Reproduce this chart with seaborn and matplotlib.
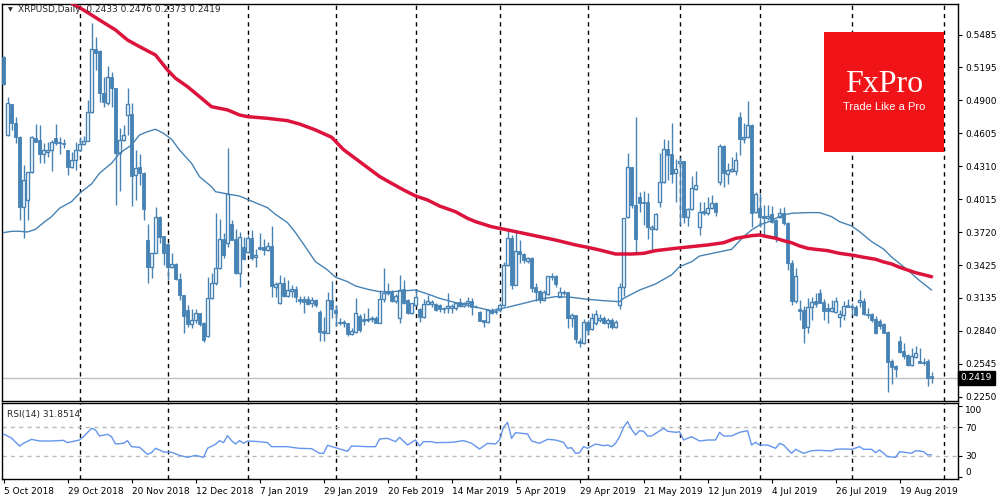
import matplotlib
matplotlib.use('Agg')
import matplotlib.pyplot as plt
import matplotlib.transforms as mtransforms
from matplotlib.patches import Rectangle
import numpy as np
import seaborn as sns

# daily candles, one entry per trading bar (5 Oct 2018 .. 29 Aug 2019)
opens = [
    .5291, .4591, .4865, .4695, .4576, .3944, .4010, .4257, .4564, .4546,
    .4418, .4436, .4457, .4561, .4531, .4523, .4457, .4302, .4368, .4457,
    .4511, .4540, .4794, .5357, .5345, .4964, .4880, .5113, .5008, .4427,
    .4546, .4770, .4776, .4233, .4308, .4254, .3652, .3414, .3539, .3855,
    .3688, .3617, .3414, .3435, .3301, .3158, .3027, .2901, .2937, .2997,
    .2907, .2794, .3131, .3265, .3399, .3658, .3629, .3795, .3658, .3360,
    .3593, .3548, .3667, .3497, .3593, .3593, .3563, .3602, .3235, .3092,
    .3265, .3155, .3199, .3211, .3122, .3122, .3122, .3086, .3116, .3012,
    .2839, .2824, .3116, .3027, .2916, .2907, .2907, .2809, .2833, .2976,
    .2946, .2937, .2943, .2952, .2913, .3122, .3176, .3190, .3110, .2952,
    .3211, .3116, .3003, .3071, .3033, .2961, .3080, .3080, .3080, .3071,
    .3048, .3042, .3042, .3042, .3101, .3062, .3086, .3110, .3056, .3006,
    .2937, .2922, .3027, .3020, .3027, .3071, .3429, .3673, .3250, .3554,
    .3527, .3468, .3489, .3235, .3196, .3116, .3170, .3331, .3331, .3146,
    .3190, .3184, .2958, .2982, .2752, .2735, .2922, .2854, .2907, .2937,
    .2955, .2913, .2937, .2872, .3071, .3229, .3855, .4302, .3965, .4040,
    .3995, .3995, .3748, .3748, .3995, .4174, .4463, .4418, .4248, .4344,
    .4359, .3861, .3927, .4105, .3772, .3912, .3891, .3936, .3980, .4174,
    .4493, .4242, .4272, .4272, .4749, .4552, .4570, .4681, .3906, .3936,
    .3867, .3846, .3885, .3831, .3861, .3897, .3801, .3444, .3110, .3033,
    .3027, .2872, .3051, .3110, .3176, .3101, .3042, .3021, .3012, .2967,
    .2982, .3071, .3062, .3051, .3101, .3110, .2991, .2991, .2943, .2931,
    .2901, .2830, .2574, .2526, .2752, .2663, .2624, .2532, .2603, .2574,
    .2565, .2574, .2433,
]
highs = [
    .5300, .4928, .4870, .4755, .4582, .4323, .4260, .4582, .4686, .4680,
    .4517, .4531, .4546, .4689, .4570, .4552, .4460, .4442, .4531, .4576,
    .4582, .4904, .5595, .5464, .5350, .5107, .5208, .5157, .5010, .4651,
    .4680, .5014, .4880, .4457, .4418, .4263, .3795, .3539, .3944, .3867,
    .3690, .3623, .3533, .3444, .3354, .3160, .3071, .3038, .3032, .3003,
    .2922, .3325, .3360, .3897, .3837, .3712, .4478, .3831, .3748, .3727,
    .3682, .3697, .3742, .3569, .3712, .3658, .3638, .3778, .3280, .3340,
    .3319, .3295, .3250, .3241, .3152, .3152, .3152, .3146, .3122, .3027,
    .2967, .3190, .3289, .3071, .2952, .2937, .2913, .2863, .3131, .2991,
    .2997, .3042, .2973, .2973, .3205, .3405, .3265, .3205, .3170, .3340,
    .3295, .3122, .3089, .3211, .3042, .3122, .3161, .3116, .3086, .3080,
    .3056, .3182, .3080, .3101, .3131, .3101, .3146, .3131, .3071, .3015,
    .2940, .3033, .3045, .3045, .3086, .3459, .3742, .3697, .3742, .3652,
    .3533, .3503, .3498, .3271, .3205, .3205, .3331, .3355, .3340, .3229,
    .3205, .3190, .2997, .2985, .2773, .2943, .2937, .2997, .3027, .2991,
    .2973, .2952, .2958, .2937, .3271, .3852, .4433, .4305, .4755, .4085,
    .4094, .4070, .3786, .3897, .4427, .4552, .4546, .4701, .4374, .4397,
    .4362, .3936, .4225, .4272, .3995, .3995, .4034, .4055, .3995, .4511,
    .4502, .4344, .4397, .4442, .4800, .4701, .4898, .4690, .4085, .4076,
    .3965, .3965, .3956, .3837, .3936, .3950, .3816, .3474, .3399, .3116,
    .3062, .3131, .3146, .3176, .3211, .3122, .3086, .3116, .3140, .3027,
    .3110, .3122, .3086, .3071, .3205, .3131, .3042, .3003, .2973, .2943,
    .2907, .2842, .2586, .2535, .2794, .2729, .2633, .2684, .2705, .2684,
    .2594, .2586, .2476,
]
lows = [
    .5040, .4585, .4636, .4517, .3831, .3667, .3831, .4248, .4528, .4344,
    .4344, .4397, .4272, .4502, .4421, .4472, .4233, .4293, .4278, .4451,
    .4502, .4535, .4790, .5172, .4889, .4838, .4859, .4844, .3965, .4093,
    .4540, .4591, .3959, .4010, .4144, .3831, .3265, .3310, .3533, .3623,
    .3429, .3295, .3399, .3295, .3116, .2818, .2878, .2863, .2907, .2884,
    .2744, .2788, .3128, .3250, .3396, .3488, .3593, .3650, .3348, .3235,
    .3474, .3533, .3474, .3414, .3563, .3518, .3557, .3146, .3146, .3080,
    .3146, .3146, .3146, .3101, .3080, .3003, .3071, .3050, .3050, .2752,
    .2752, .2821, .2952, .2884, .2893, .2878, .2794, .2803, .2818, .2833,
    .2893, .2922, .2922, .2907, .2907, .3101, .3161, .3101, .3086, .2907,
    .3080, .2991, .2991, .3062, .2922, .2952, .3071, .3050, .3021, .3012,
    .2997, .3003, .3003, .3027, .3056, .3050, .3056, .2982, .3042, .2928,
    .2872, .2913, .2995, .2995, .3012, .3062, .3420, .3211, .3247, .3450,
    .3450, .3444, .3190, .3110, .3086, .3110, .3161, .3295, .3235, .3140,
    .3161, .2863, .2872, .2729, .2693, .2723, .2803, .2848, .2893, .2922,
    .2901, .2863, .2854, .2863, .3033, .3152, .3846, .3936, .3533, .3906,
    .3786, .3658, .3563, .3742, .3950, .4165, .4189, .4159, .3995, .3786,
    .3801, .3778, .3921, .4099, .3697, .3876, .3876, .3927, .3867, .4144,
    .4129, .4153, .4263, .4233, .4412, .4517, .4561, .3772, .3891, .3772,
    .3688, .3831, .3801, .3637, .3846, .3786, .3384, .3071, .3086, .2937,
    .2729, .2818, .2937, .3056, .3086, .2937, .2913, .3012, .3003, .2878,
    .2937, .3051, .2982, .2973, .3056, .2982, .2952, .2922, .2812, .2854,
    .2818, .2296, .2365, .2431, .2639, .2586, .2526, .2526, .2594, .2550,
    .2535, .2347, .2373,
]
closes = [
    .5047, .4874, .4695, .4576, .3944, .4189, .4257, .4576, .4531, .4418,
    .4457, .4457, .4531, .4517, .4517, .4511, .4302, .4368, .4457, .4511,
    .4540, .4794, .5357, .5327, .4964, .4889, .5107, .5008, .4433, .4546,
    .4591, .4865, .4228, .4293, .4248, .3927, .3408, .3533, .3855, .3682,
    .3533, .3414, .3435, .3301, .3158, .2973, .2901, .2937, .2997, .2901,
    .2758, .3131, .3265, .3399, .3658, .3518, .4061, .3652, .3360, .3676,
    .3480, .3667, .3495, .3518, .3575, .3563, .3602, .3244, .3259, .3265,
    .3155, .3205, .3214, .3146, .3110, .3101, .3080, .3116, .3071, .2833,
    .2824, .3116, .3033, .2997, .2907, .2916, .2809, .2839, .2997, .2848,
    .2931, .2946, .2952, .2913, .3122, .3182, .3190, .3110, .3155, .3205,
    .3092, .3003, .3086, .3146, .2961, .3080, .3110, .3101, .3027, .3033,
    .3033, .3062, .3065, .3092, .3062, .3092, .3110, .3056, .3050, .2931,
    .2922, .3027, .3003, .3005, .3071, .3429, .3673, .3250, .3554, .3524,
    .3474, .3489, .3226, .3190, .3116, .3190, .3331, .3319, .3259, .3190,
    .3176, .2958, .2982, .2764, .2735, .2922, .2848, .2952, .2991, .2955,
    .2913, .2937, .2872, .2922, .3229, .3846, .4302, .3965, .3658, .3986,
    .3980, .3766, .3772, .3882, .4174, .4463, .4412, .4242, .4284, .4359,
    .3861, .3927, .4114, .4144, .3906, .3891, .3936, .3980, .3906, .4493,
    .4248, .4278, .4287, .4368, .4552, .4570, .4681, .3897, .4064, .3855,
    .3846, .3867, .3816, .3667, .3891, .3801, .3444, .3110, .3331, .3021,
    .2863, .3051, .3101, .3080, .3092, .3021, .3021, .3042, .3110, .2991,
    .3062, .3056, .3051, .2982, .3116, .2991, .2982, .2937, .2818, .2884,
    .2824, .2565, .2520, .2496, .2654, .2615, .2532, .2618, .2639, .2556,
    .2556, .2416, .2419,
]

# slow (red) and fast (blue) moving averages
ma_red_bars = [17, 20, 24, 28, 31, 34, 38, 41, 43, 46, 49, 52, 56, 59, 61,
               66, 71, 74, 78, 82, 85, 88, 91, 94, 97, 100, 103, 106, 109,
               113, 116, 118, 122, 126, 130, 134, 138, 143, 146, 149, 153,
               157, 160, 163, 168, 172, 176, 180, 183, 187, 189, 191, 193,
               195, 197, 199, 201, 203, 206, 209, 212, 215, 218, 220, 222,
               224, 226, 228, 232]
ma_red_vals = [.5768, .5709, .5619, .5530, .5440, .5381, .5306, .5172, .5098,
               .5023, .4934, .4844, .4815, .4770, .4755, .4740, .4719, .4689,
               .4636, .4571, .4460, .4380, .4300, .4220, .4159, .4100,
               .4046, .4010, .3956, .3905, .3846, .3816, .3771, .3742, .3712,
               .3682, .3652, .3608, .3587, .3563, .3527, .3527, .3533, .3557,
               .3578, .3593, .3608, .3628, .3667, .3691, .3697, .3682, .3668,
               .3646, .3628, .3599, .3578, .3569, .3557, .3533, .3518, .3498,
               .3480, .3456, .3438, .3408, .3384, .3360, .3324]
ma_blue_bars = [0, 2, 4, 6, 8, 10, 12, 14, 17, 19, 22, 24, 27, 29, 32, 34, 36,
                38, 40, 42, 44, 47, 49, 52, 53, 56, 59, 62, 66, 68, 71, 73,
                76, 78, 81, 83, 86, 88, 91, 94, 97, 103, 106, 109, 113, 117,
                122, 126, 130, 134, 138, 142, 146, 150, 154, 155, 159, 163,
                164, 167, 169, 172, 174, 178, 182, 185, 187, 189, 192, 193,
                195, 197, 201, 204, 207, 209, 212, 214, 217, 220, 222, 226,
                229, 232]
ma_blue_vals = [.3718, .3730, .3730, .3724, .3748, .3807, .3861, .3936, .3995,
                .4070, .4153, .4249, .4338, .4427, .4502, .4591, .4621, .4642,
                .4606, .4553, .4457, .4338, .4218, .4129, .4084, .4064, .4045,
                .4000, .3941, .3881, .3807, .3718, .3563, .3458, .3384, .3319,
                .3280, .3241, .3212, .3190, .3190, .3205, .3170, .3131, .3092,
                .3062, .3020, .3051, .3086, .3122, .3146, .3140, .3122, .3110,
                .3101, .3131, .3205, .3259, .3280, .3340, .3414, .3458, .3509,
                .3539, .3569, .3682, .3742, .3787, .3825, .3846, .3876, .3891,
                .3897, .3897, .3861, .3816, .3778, .3727, .3638, .3571, .3500,
                .3384, .3289, .3205]

# RSI(14)
rsi_bars = [0, 2, 4, 5, 7, 9, 12, 15, 16, 19, 20, 22, 23, 24, 26, 27, 28, 30,
            31, 32, 34, 36, 37, 38, 39, 40, 42, 44, 46, 48, 50, 51, 53, 54, 55,
            56, 57, 58, 59, 60, 61, 64, 66, 67, 71, 72, 74, 77, 79, 80, 81, 83,
            84, 86, 87, 91, 93, 94, 96, 98, 99, 101, 103, 104, 105, 107, 108,
            112, 115, 117, 119, 121, 123, 124, 125, 126, 127, 128, 131, 132,
            134, 136, 138, 140, 141, 142, 143, 144, 145, 146, 148, 150, 151,
            152, 153, 154, 155, 156, 157, 158, 159, 160, 161, 162, 165, 166,
            168, 169, 170, 172, 174, 176, 178, 179, 180, 182, 184, 186, 187,
            188, 189, 191, 193, 194, 195, 197, 198, 200, 202, 204, 207, 208,
            210, 212, 214, 215, 217, 218, 219, 221, 223, 224, 226, 227, 228,
            229, 230, 231, 232]
rsi_vals = [60.7, 55.0, 43.9, 47.7, 53.2, 50.9, 50.9, 51.8, 48.6, 52.3, 56.9,
            68.6, 66.2, 57.9, 60.2, 56.9, 46.7, 47.7, 51.4, 43.0, 42.1, 32.3,
            34.6, 40.7, 38.4, 35.6, 35.1, 30.9, 28.1, 30.9, 28.1, 40.7, 46.3,
            51.4, 48.6, 58.3, 51.4, 46.7, 51.4, 47.7, 50.9, 50.0, 48.6, 43.0,
            43.0, 42.1, 40.7, 40.2, 33.7, 33.7, 44.9, 41.6, 39.8, 36.5, 43.9,
            43.0, 43.0, 53.7, 54.6, 50.0, 56.0, 45.3, 52.3, 43.9, 50.0, 50.0,
            48.6, 49.0, 51.4, 47.7, 39.8, 47.7, 46.7, 52.5, 70.0, 76.9, 54.6,
            62.5, 60.7, 50.9, 47.7, 53.2, 52.3, 49.0, 40.7, 41.6, 33.7, 34.6,
            43.0, 40.7, 46.7, 44.4, 45.3, 43.0, 47.7, 57.0, 70.0, 77.9, 67.2,
            59.3, 65.3, 64.4, 57.9, 57.9, 68.6, 64.5, 63.0, 63.9, 52.3, 56.9,
            50.9, 52.3, 52.3, 63.0, 57.9, 57.9, 63.0, 65.3, 45.3, 49.0, 45.3,
            45.3, 40.7, 47.7, 45.3, 33.7, 39.3, 33.7, 37.4, 37.9, 37.0, 39.3,
            39.8, 39.3, 43.0, 39.3, 39.3, 34.6, 38.4, 29.1, 28.1, 36.0, 34.6,
            33.7, 37.4, 37.0, 36.0, 31.4, 31.85]

date_labels = ['5 Oct 2018', '29 Oct 2018', '20 Nov 2018', '12 Dec 2018',
               '7 Jan 2019', '29 Jan 2019', '20 Feb 2019', '14 Mar 2019',
               '5 Apr 2019', '29 Apr 2019', '21 May 2019', '12 Jun 2019',
               '4 Jul 2019', '26 Jul 2019', '19 Aug 2019']
month_start_bars = [19, 41, 61, 83, 103, 124, 146, 169, 189, 212, 235]
price_ticks = [0.5485, 0.5195, 0.4900, 0.4605, 0.4310, 0.4015, 0.3720,
               0.3425, 0.3135, 0.2840, 0.2545, 0.2250]

BLUE = '#4682B4'
RED = '#DC143C'

sns.set_style('white')
plt.rcParams['font.family'] = ['DejaVu Sans']
FS = 6.5

fig = plt.figure(figsize=(10, 5), dpi=100)
ax = fig.add_axes([0.002, 0.198, 0.956, 0.794])
ax_rsi = fig.add_axes([0.002, 0.042, 0.956, 0.152], sharex=ax)

# ---- candles ----
x = np.arange(len(closes))
o = np.array(opens)
c = np.array(closes)
h = np.array(highs)
l = np.array(lows)
up = c >= o
body_lo = np.minimum(o, c)
body_h = np.maximum(np.abs(c - o), 0.0005)

ax.axhline(closes[-1], color='#C0C0C0', lw=1, zorder=1)
for b in month_start_bars:
    ax.axvline(b, color='black', lw=1, ls=(0, (3, 3)), zorder=1)
    ax_rsi.axvline(b, color='black', lw=1, ls=(0, (3, 3)), zorder=1)

ax.vlines(x, l, h, color=BLUE, lw=1, zorder=3)
ax.bar(x[~up], body_h[~up], bottom=body_lo[~up], width=0.7,
       color=BLUE, edgecolor=BLUE, lw=0.6, zorder=4)
ax.bar(x[up], body_h[up], bottom=body_lo[up], width=0.7,
       facecolor='white', edgecolor=BLUE, lw=1, zorder=4)

# ---- moving averages ----
sns.lineplot(x=ma_blue_bars, y=ma_blue_vals, ax=ax, color=BLUE, lw=1,
             sort=False, zorder=5)
sns.lineplot(x=ma_red_bars, y=ma_red_vals, ax=ax, color=RED, lw=2.5,
             sort=False, zorder=6)

ax.set_xlim(-0.375, 238.6)
ax.set_ylim(0.2213, 0.5762)
ax.yaxis.tick_right()
ax.set_yticks(price_ticks, [f'{t:.4f}' for t in price_ticks])
ax.tick_params(axis='y', right=True, length=3, width=0.8, pad=2,
               labelsize=FS, colors='black')
ax.tick_params(axis='x', bottom=False, labelbottom=False)
ax.set_xlabel('')
ax.set_ylabel('')

# current price marker
trans = mtransforms.blended_transform_factory(ax.transAxes, ax.transData)
ax.text(1.003, closes[-1], f'{closes[-1]:.4f}', transform=trans, ha='left',
        va='center', color='white', fontsize=FS, zorder=10, clip_on=False,
        bbox=dict(boxstyle='square,pad=0.3', fc='black', ec='black'))

# ---- RSI panel ----
ax_rsi.axhline(70, color='#BBBBBB', lw=1, ls=(0, (3, 3)), zorder=1)
ax_rsi.axhline(30, color='#BBBBBB', lw=1, ls=(0, (3, 3)), zorder=1)
sns.lineplot(x=rsi_bars, y=rsi_vals, ax=ax_rsi, color='#6495ED', lw=1,
             sort=False, zorder=3)
ax_rsi.set_ylim(-2.1, 103.9)
ax_rsi.yaxis.tick_right()
ax_rsi.set_yticks([100, 70, 30, 0], ['100', '70', '30', '0'])
ax_rsi.tick_params(axis='y', right=True, length=3, width=0.8, pad=2,
                   labelsize=FS, colors='black')
ylabs = ax_rsi.get_yticklabels()
ylabs[0].set_va('top')
ylabs[3].set_va('bottom')
ax_rsi.set_xticks(np.arange(len(date_labels)) * 16, date_labels)
for lab in ax_rsi.get_xticklabels():
    lab.set_ha('left')
ax_rsi.tick_params(axis='x', bottom=True, length=3, width=0.8, pad=3,
                   labelsize=FS, colors='black')
ax_rsi.set_xlabel('')
ax_rsi.set_ylabel('')

for a in (ax, ax_rsi):
    for s in a.spines.values():
        s.set_color('black')
        s.set_linewidth(1)
    a.set_facecolor('white')

# ---- captions ----
fig.text(0.008, 1 - 10 / 500, '\u25bc', fontsize=4.5, va='center', ha='left')
fig.text(0.018, 1 - 10 / 500, 'XRPUSD,Daily  0.2433 0.2476 0.2373 0.2419',
         fontsize=FS, va='center', ha='left')
fig.text(0.007, 1 - 414 / 500, 'RSI(14) 31.8514', fontsize=FS, va='center',
         ha='left')

# ---- logo ----
fig.patches.append(Rectangle((0.824, 0.696), 0.12, 0.24,
                             transform=fig.transFigure, facecolor='#F01419',
                             edgecolor='none', zorder=20))
fig.text(0.884, 1 - 84 / 500, 'FxPro', color='white', fontsize=23,
         family=['Liberation Serif', 'DejaVu Serif'], ha='center',
         va='center', zorder=21)
fig.text(0.884, 1 - 107 / 500, 'Trade Like a Pro', color='white', fontsize=8,
         family=['Liberation Sans', 'DejaVu Sans'], ha='center', va='center',
         zorder=21)

fig.savefig('out.png', dpi=100)
